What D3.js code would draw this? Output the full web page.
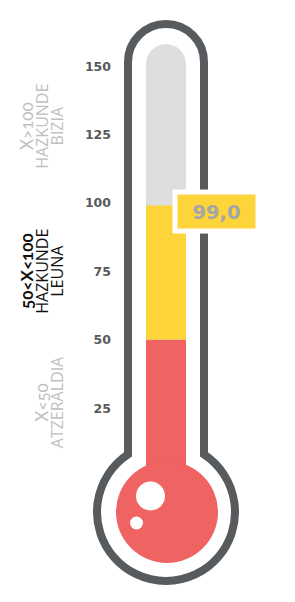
<!DOCTYPE html>
<html>
<head>
<meta charset="utf-8">
<script src="https://cdn.jsdelivr.net/npm/d3@7"></script>
<style>
  html, body { margin: 0; padding: 0; background: #fff; }
  svg { display: block; }
</style>
</head>
<body>
<div id="chart"></div>
<script>
"use strict";

// data
const value = 99.0;
const trackMax = 158;
const tickValues = [25, 50, 75, 100, 125, 150];
const bandLow = [0, 50, 100];
const bandHigh = [50, 100, 150];
const bandColors = ["#f06363", "#fdd43a", "#dedede"];
const bandLabelAt = [27, 75, 128];
const bandTitles = ["X<50", "50<X<100", "X>100"];
const bandLines = [["ATZERALDIA"], ["HAZKUNDE", "LEUNA"], ["HAZKUNDE", "BIZIA"]];
const bandLabelColors = ["#bfbfbf", "#111111", "#bfbfbf"];
const bandTitleBold = [false, true, false];

const width = 295, height = 602;
const cx = 166;           // tube centre
const tubeW = 40;
const outline = "#585b5e";

const svg = d3.select("#chart").append("svg")
  .attr("width", width)
  .attr("height", height);

const y = d3.scaleLinear().domain([0, 150]).range([476.4, 66]);

// Outer glass outline
const wallL = cx - 38, wallR = cx + 38, bulbY = 512, bulbR = 69;
const joinY = bulbY - Math.sqrt(bulbR * bulbR - 38 * 38);
svg.append("path")
  .attr("d", `M${wallL},${joinY} L${wallL},62 A38,38 0 0 1 ${wallR},62 L${wallR},${joinY} A${bulbR},${bulbR} 0 1 1 ${wallL},${joinY} Z`)
  .attr("fill", "none")
  .attr("stroke", outline)
  .attr("stroke-width", 8);

// Empty track with rounded top
const x0 = cx - tubeW / 2, x1 = cx + tubeW / 2, r = tubeW / 2;
svg.append("path")
  .attr("d", `M${x0},${y(0)} L${x0},${y(trackMax) + r} A${r},${r} 0 0 1 ${x1},${y(trackMax) + r} L${x1},${y(0)} Z`)
  .attr("fill", bandColors[2]);

// Filled segments up to the value
const segs = bandLow.map((lo, i) => ({lo: lo, hi: Math.min(bandHigh[i], value), color: bandColors[i]}))
  .filter(d => d.hi > d.lo && d.lo < value);
svg.selectAll("rect.seg")
  .data(segs)
  .join("rect")
  .attr("class", "seg")
  .attr("x", x0)
  .attr("width", tubeW)
  .attr("y", d => y(d.hi))
  .attr("height", d => y(d.lo) - y(d.hi))
  .attr("fill", d => d.color);

// Bulb
svg.append("circle")
  .attr("cx", cx + 1)
  .attr("cy", bulbY)
  .attr("r", 51)
  .attr("fill", bandColors[0]);
svg.append("circle").attr("cx", 150.5).attr("cy", 496).attr("r", 14.5).attr("fill", "#fff");
svg.append("circle").attr("cx", 136.5).attr("cy", 523).attr("r", 6.5).attr("fill", "#fff");

// Tick labels
const axis = d3.axisLeft(y).tickValues(tickValues).tickSize(0).tickPadding(0);
const ag = svg.append("g")
  .attr("transform", "translate(111,0)")
  .call(axis);
ag.select(".domain").remove();
ag.selectAll("text")
  .attr("font-family", "'DejaVu Sans', sans-serif")
  .attr("font-weight", "bold")
  .attr("font-size", 12.5)
  .attr("fill", "#595959");

// Band labels (rotated)
bandTitles.forEach(function(title, i) {
  const lines = [title].concat(bandLines[i]);
  const lastX = 63, step = 15;
  const g = svg.append("g");
  lines.forEach(function(txt, j) {
    const bx = lastX - (lines.length - 1 - j) * step;
    const yc = y(bandLabelAt[i]);
    g.append("text")
      .attr("transform", `translate(${bx},${yc}) rotate(-90)`)
      .attr("text-anchor", "middle")
      .attr("font-family", j === 0 ? "Lato, 'Open Sans', sans-serif" : "'Open Sans', sans-serif")
      .attr("font-size", j === 0 ? 17 : 16)
      .attr("font-weight", j === 0 && bandTitleBold[i] ? "bold" : "normal")
      .style("font-variant-numeric", "oldstyle-nums")
      .attr("fill", bandLabelColors[i])
      .text(txt);
  });
});

// Value badge
const fmt = d3.formatLocale({decimal: ",", thousands: ".", grouping: [3], currency: ["", "€"]}).format(".1f");
const by = y(value) + 6;
svg.append("rect")
  .attr("x", 175)
  .attr("y", by - 19.5)
  .attr("width", 83)
  .attr("height", 39)
  .attr("fill", bandColors[1])
  .attr("stroke", "#fff")
  .attr("stroke-width", 5);
svg.append("text")
  .attr("x", 216.5)
  .attr("y", by)
  .attr("dy", "0.36em")
  .attr("text-anchor", "middle")
  .attr("font-family", "'DejaVu Sans', sans-serif")
  .attr("font-weight", "bold")
  .attr("font-size", 19.5)
  .attr("fill", "#a6a6a6")
  .text(fmt(value));
</script>
</body>
</html>
